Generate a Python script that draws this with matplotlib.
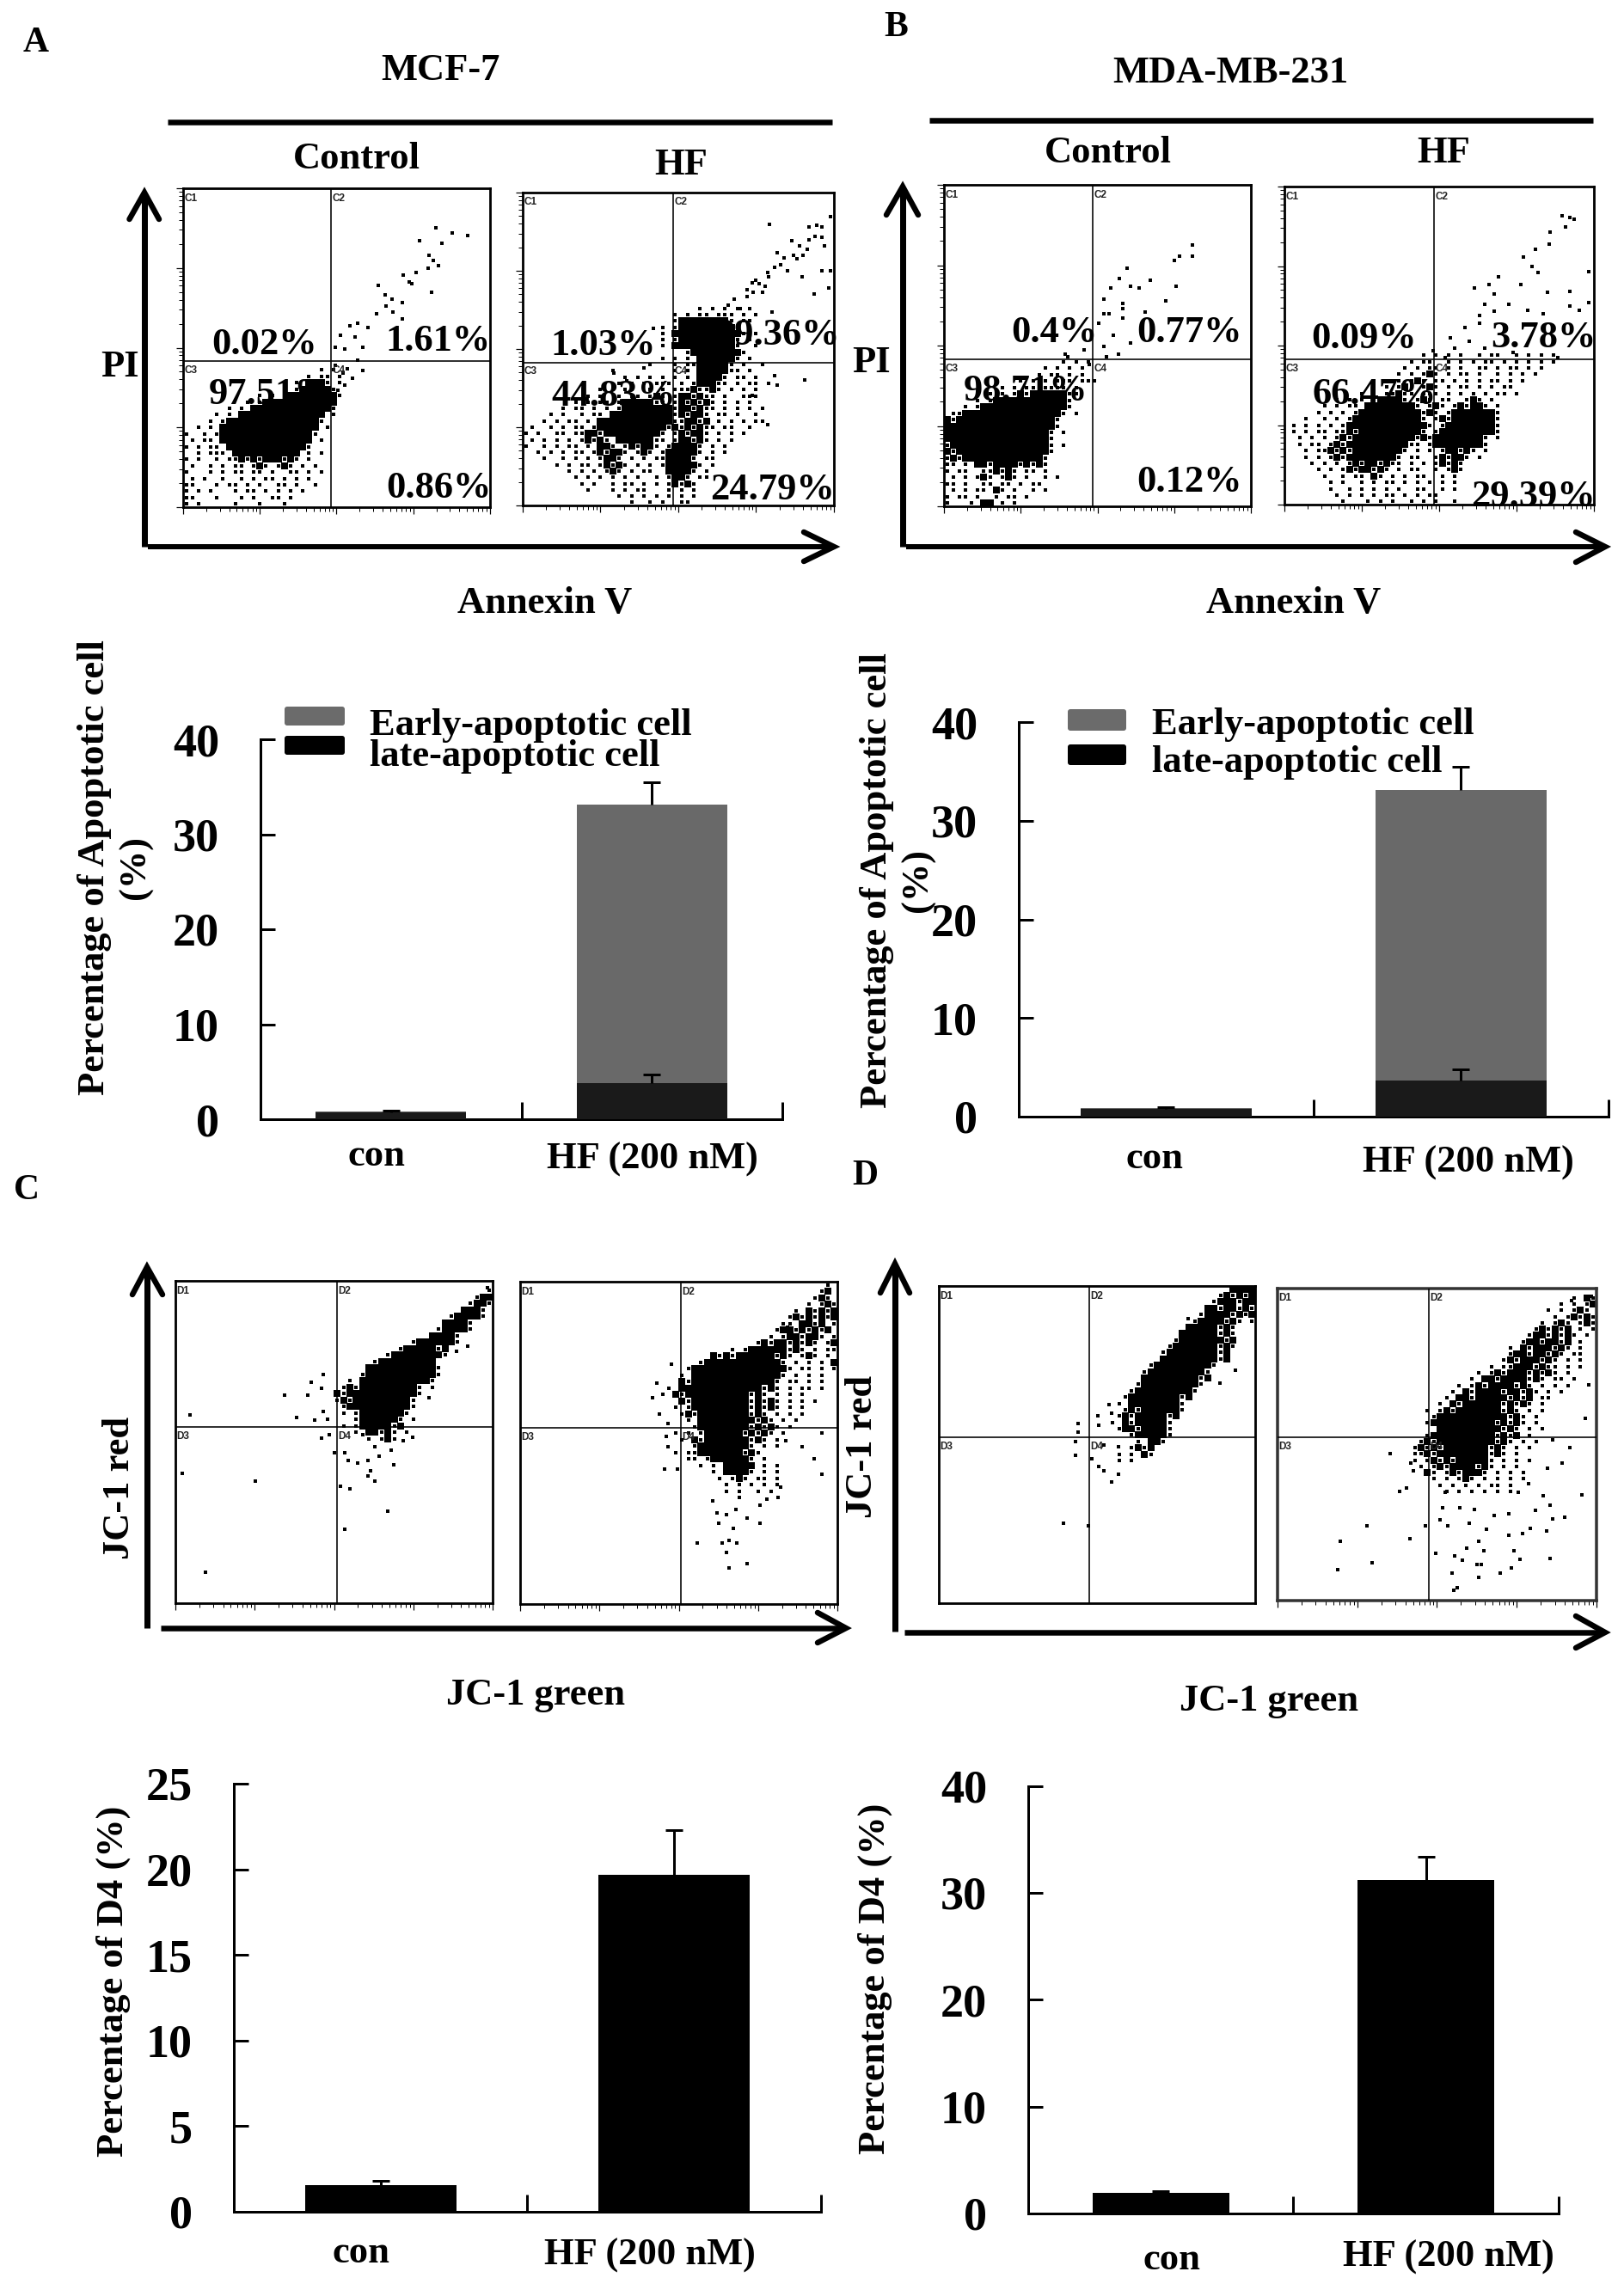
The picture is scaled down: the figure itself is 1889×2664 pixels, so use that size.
import matplotlib
matplotlib.use("Agg")
import matplotlib.pyplot as plt
import numpy as np
from matplotlib.patches import FancyBboxPatch

plt.rcParams['font.family'] = ['Liberation Serif', 'DejaVu Serif']
plt.rcParams['font.weight'] = 'bold'

W, H = 1890, 2664
DPI = 100
PX = 72 / DPI

# ---------- bar chart values ----------
categories = ["con", "HF (200 nM)"]
legend_labels = ["Early-apoptotic cell", "late-apoptotic cell"]

A_late = [0.7, 3.76]
A_total = [0.8, 33.1]
A_late_err = [0.25, 0.95]
A_total_err = [0.0, 2.35]
A_ticks = [0, 10, 20, 30, 40]

B_late = [0.75, 3.7]
B_total = [0.83, 33.1]
B_late_err = [0.2, 1.05]
B_total_err = [0.0, 2.35]
B_ticks = [0, 10, 20, 30, 40]

C_d4 = [1.57, 19.7]
C_err = [0.25, 2.6]
C_ticks = [0, 5, 10, 15, 20, 25]

D_d4 = [1.9, 31.2]
D_err = [0.2, 2.2]
D_ticks = [0, 10, 20, 30, 40]

# ---------- flow cytometry panels ----------
# Channel scale 0-100 on both axes. The *_top value is the lower edge (in channels) of the first
# row of the binned map; each row is 2 channels tall and each column 2 channels wide.
# '@' = saturated bin, '#' = a single event, '.' = empty.
A_ctrl_pcts = ["0.02%", "1.61%", "97.51%", "0.86%"]
A_hf_pcts = ["1.03%", "29.36%", "44.83%", "24.79%"]
B_ctrl_pcts = ["0.4%", "0.77%", "98.71%", "0.12%"]
B_hf_pcts = ["0.09%", "3.78%", "66.47%", "29.39%"]

A_ctrl_top = 42
A_ctrl_map = [
    "......................#.#.",
    "....................#.##.#",
    "..................#.@@@#.#",
    "................#.#@@@@@#.",
    "............#.#.#@@@@@@@@#",
    "..........#.#@@@@@@@@@@@@.",
    ".......#.#.@@@@@@@@@@@@@#.",
    ".....#.#.@@@@@@@@@@@@@@.#.",
    "....#.#@@@@@@@@@@@@@@@#...",
    "..#.#.@@@@@@@@@@@@@@@@.#..",
    "#..#.#@@@@@@@@@@@@@@@#....",
    ".#.##.@@@@@@@@@@@@@@@.#...",
    "#.#.##.@@@@@@@@@@@@@#.....",
    "..#.###.@@@@@@@@@@@.#.#...",
    "#.#..#.##@#@#@@@#@#.#.....",
    ".#..#.#.##.#@#.#@#.#.#....",
    "#...#.#.##.##.#..##.#.#...",
    ".#.#..#..#.#.##.#.#.#.....",
    "##...#.##.#.#..##.#..#....",
    "#.#.#...#.##.#.#.#.#......",
    "##...#...#.#..##.#........",
    "#.#.....#...#...#.........",
]
A_ctrl_events = [(82.3,87.6),(87.8,86.1),(92.8,85.3),(77,83.6),(84.2,82.8),(80.2,78.9),(81.5,77.4),(79.7,75),(83.1,75.8),(71.7,72.9),(75.8,73.7),(73.8,70.6),(74.6,70),(81,67.3),(63.6,69.6),(65.9,66.5),(68.1,65.1),(71.3,64.1),(63,60.7),(66.2,63.2),(71.3,58.9),(68.4,61.3),(56.8,57.6),(54.4,57),(60.1,56.4),(51.2,53.9),(56,53.3),(49.6,50.2),(52.8,49.6),(58.5,50.2),(56.8,46.2),(53.6,43.4),(58.5,42.8),(49.6,44.6),(52,42.1),(55.2,40.3),(52.8,38.4),(50.4,36.6),(49.6,34.7)]

A_hf_top = 62
A_hf_map = [
    "............................#.#.#.#.#",
    "........................#.#.##.###.#.#",
    "........................#@@@@@@@@#.##.",
    "......................#.#@@@@@@@@@#.#.",
    "......................#.@@@@@@@@@@@#.#",
    "......................#.#@@@@@@@@@#.#",
    "......................#.@@@@@@@@@@#..#",
    "..........................#@@@@@@@@#",
    "......................#.#.#.@@@@@@#.#",
    "....................#...#.##@@@@@#.#..#",
    "..............#.........#.#.@@@@@##.#",
    "................#.#.#.#.#.#.@@@@#.##.#",
    "...............#.#.#.###.#.#@@@##.#.##.#",
    "............#.#.##..#.#.###@##@#.#.#.#",
    "..........#.#..#.##.#@#.#@@#@##.#..###.",
    "........#.#.##.#@@@@@##.#@#@#@#.#.#.#",
    "......#.##.#.#.#@@@@@@@@#@@#@##.#.#.#.#",
    "....#.#..#.##.@@@@@@@@@@#@#@@#.##.#..#",
    "...#.#.##.#.@@@@@@@@@@@@##@@#@.#.#.#.##",
    ".#..#.#.##.#@@@@@@@@@@@#@#@#@##.##..#.",
    "#.#..##.##@@#@@@@@@@@@#.#@#@@#.#.#.#",
    ".#.#.#.#.#@#@#.@@@@@@##.#@@#@#.#.#.",
    "#..#.#.##.#.@@#.#@#@@#.#@@@@#.#.#",
    "..#.#.#.##.#@#@@#.#@#.#@@@@@#.#.#",
    "...#..#.#.#.#@@#.#.#.##@@@@#.##.",
    ".....#.#.##.#@#@#.#.#.#@@@@@#.#",
    ".......#.#.#.#@#.#.##..@@@@#.#",
    "........#.#.#.#.#.#..#.#@@#.##",
    ".........#.#..#.##.#.#.#@#@#.",
    "..........#...#.#.##...#.#.#.",
    "...............#.#.#.#.#.#.#",
    ".................#..#.#..##",
]
A_hf_events = [(79.4,89.8),(92,88.9),(94.4,89.5),(98.9,92.3),(96,85.7),(86.5,84.5),(91.3,82),(81.7,80.7),(88,78.8),(96,75),(99,75),(89.7,73),(78.6,74.4),(98.4,69.4),(93.7,67.5),(73.8,71.2),(72.2,66.8),(77,68),(80.2,61.8),(81,41.6),(90.5,40),(81.7,38.5),(73.8,35.3),(78.6,25.9),(42,56.7),(38.9,44),(29.4,42.2),(33.3,39.7),
    (66,64),(68,66),(70,63),(72,69),(74,68),(75,72),(76,71),(78,70),(79,73),(81,76),(83,77),(84,79),(85,75),(87,80),(89,83),(90,80),(92,85),(94,86),(96,89),(97,83)]

B_ctrl_top = 44
B_ctrl_map = [
    "...................#.#.#",
    "................#.#.#.#",
    "...............#.##.#.#",
    "............#.#.#.###.##",
    ".........#.#.##.####.#",
    ".......#.#.#@#@@@@@@##",
    ".....#.#@@@@@@@@@@@@#.",
    "...#.#@@@@@@@@@@@@@@#",
    ".##@@@@@@@@@@@@@@@@#.#",
    "@#@@@@@@@@@@@@@@@@#.",
    "@@@@@@@@@@@@@@@@@@#",
    "@@@@@@@@@@@@@@@@@#.#",
    "@@@@@@@@@@@@@@@@@#",
    "#@@@@@@@@@@@@@@@@#.#",
    "@#@@@@@@@@@@@@@@@#",
    "#@#@@@@@@@@@@@@@#.",
    "##.#.@@#@@@@#@#@#",
    "#.##..##@#@#.##.#",
    ".#.#.#@#.#@#.#..#.#",
    "##.#..##.##.#.##",
    ".#.#.##.@#.#..#.#.",
    "#.##.#..#.##.#.",
    "#...#.@@.#.#..",
]
B_ctrl_events = [(80.9,81.3),(80.9,77.9),(76.7,77.9),(75,76.4),(59.7,74),(57.1,70.9),(60.8,68.4),(67.1,70.3),(63.5,67.8),(54.4,67.8),(52,64.5),(58.4,63.1),(58.4,61.6),(72.4,63.8),(75.6,68.4),(65.6,60.5),(52,60),(53.7,60),(58.4,58.5),(50.5,57),(55.2,53.3),(52,49.6),(60.8,50.8),(56.8,47.2),(52.9,46.6),(39.4,47.2),(40.2,46.6),(45.7,48.7),(47.3,44),(48.9,39)]

B_hf_top = 46
B_hf_map = [
    "......................#.#.#.#..#.##..#.#.#.#.",
    "....................#.##..#.#.#.##.#.#.#.#.#",
    "...................#.#.##.#.#..##.#.##.#.#",
    "..................#.#.#@#.#.##.#..#.#.#.#",
    "..................#.#@#.##.#.#.#.##.#.#",
    "..............#.#.#@#.#@#.#.##.#.#.##",
    "............#.#.##@##.###.#.#.#.#.##.#",
    "........#.#.#.#@@@@#.#@#.##..#@#.#",
    "......#.#.##.@@@@@@@@#.#@#.#@#@@#.#",
    ".....#.#.#.#@@@@@@@@@@#@#.#@@@@@@@#",
    "...#..#.#.#@@@@@@@@@@@#.#@#@@@@@@@#",
    ".#.#.#.#.#@@@@@@@@@@@@@#.#@@@@@@@@#.",
    ".#.#.##.##@#@@@@@@@@@@#.#@@@@@@@@@#",
    "..#.#.#.#@#@@@@@@@@@@#@#@@@@@@@@#.#",
    "..#.##.#@#@@@@@@@@@@##.#@@@@@@@@#",
    "...#.##@#@#@@@@@@@@#.#.#.#@@#@#.#",
    "...#.#.#@#@@@@@@@@#.##..#@#@@#.#",
    "....#.#.#.#@#@@#@##.#.#.#@#@#.",
    ".....#.#.#@#@@#@#.#.##..#.#@#",
    "......#..#.##.@#.#.#.##..#.#",
    ".......#.#..#.#.##.#.#.#.#.#",
    ".......#..#.#.#.#.#..##..#.#",
    "........#.#.#.#.##.#.#.##..",
    ".........#...#.#.#..#.#.#..#",
]
B_hf_events = [(89.8,90.9),(92.1,90.3),(93.7,89.7),(90.9,87.2),(85.8,85.7),(85.5,81.9),(81.1,80.4),(77.2,77.9),(80,74.8),(81.9,73),(69.3,71.7),(76.4,69.2),(66.1,69.2),(61.4,68),(67.7,66.1),(85,66.7),(92.1,67),(98.4,73.2),(72.4,63),(64.6,63),(78.7,61.1),(98.4,63.6),(92.1,62.3),(95.3,61.1),(63,59.4),(67.7,60.7),(83.5,60),(58.3,55.6),(63,56.9),(53.5,52.5),(59.8,51.3),(55.1,49.1),(48,48.5),(52,46.3),(64.6,49.1),(74,47.9),(88.2,46.2)]

C_ctrl_top = 96
C_ctrl_map = [
    ".................................................#",
    "...............................................#@@",
    "..............................................#@@#",
    ".............................................@@@#",
    "...........................................#@@@@#",
    "..........................................@@@@#",
    ".........................................#@@@@#",
    "........................................@@@@#",
    ".....................................#@@@@@@#",
    "...................................#@@@@@#@",
    ".................................#@@@@@@@@#",
    "...............................#@@@@@@@@@",
    "..............................@@@@@@@@@@@#",
    ".............................#@@@@@@@@@@@#",
    "...........................#.@@@@@@@@@@@#",
    "..........................#@#@@@@@@@@@#.#",
    ".........................@#@@@@@@@@@@@#",
    ".........................#@#@@@@@@@@@#",
    "..........................#@@@@@@@@@@#",
    "..........................#.#@@@@@@@#",
    "............................#@@@@@@#.#",
    "..........................#.#@@@@@#@.",
    "............................#.@@#@#.#",
    "..............................#.#@#",
]
C_ctrl_events = [(4.6,58.3),(2.2,40.2),(25.1,37.8),(9.4,9.5),(34.3,64.6),(41.6,64.6),(42.8,68.6),(46.5,71),(46.2,66.7),(38.3,57.6),(43.8,56.7),(46.5,59.5),(48,57),(46.2,51.1),(48.4,52.4),(50.2,46.7),(53.5,46.7),(54.4,44.3),(57.4,43.5),(60.6,44.3),(64.3,45.7),(68.8,42.9),(61.4,41),(60.6,39.5),(62.9,37.8),(51.9,36.2),(55,35.5),(66.9,28.6),(53.5,23),(59.1,52.4),(62.9,48.6),(68,47.6),(71.8,50.5),(74.7,51.4),(92.1,79.8),(88.7,78.1),(98.5,98),(79.9,63.8)]

C_hf_top = 98
C_hf_map = [
    "................................................#",
    "...............................................#@",
    "..............................................#@#",
    ".............................................#.#@#",
    "...........................................#.@#@#@",
    "..........................................#@#@#@#@",
    ".........................................##.@@#@.#",
    "........................................#@@#@#@#@",
    ".......................................#.#@@#@@#.#",
    ".....................................#@#@@#@#@#.#@",
    ".................................#.#@@@@@@#@#.#.##",
    "..............................@#@#@@@@@@#@#.#@#.#",
    "............................#@@@@@@@@@@@@#.#.#.#.@",
    "..........................#@@@@@@@@@@@@@@@#.##.#.#",
    ".........................#.@@@@@@@@@@@@@@#.#.#.#",
    ".........................@#@@@@@@@@@@@@@#.##.#.#",
    ".......................#.@@@@@@@@@@@@@#@#.#.##.#",
    "......................#.@#@@@@@@@@@@#@#.#.#.#",
    ".........................@#@@@@@@@@@#@#@#.#.#.#",
    "........................#.#@@@@@@@@@#@#@#.#.#",
    ".........................#@#@@@@@@@@#@#.#.#.#",
    "..........................#.@@@@@@@@@#@#.#.#",
    "...........................#@@@@@@@@#@#@#.#",
    "........................#.#.#@@@@@@#@#@#.#",
    ".........................#.@#@@@@@@@#@#.#",
    "...........................#@@@@@@@@#.#.#",
    "........................#.##@@@@@@@#@#",
    "..........................##.#@@@@@@#.#",
    "............................#.#.@@@@@.#.#",
    "..............................#.@@@@#.#.#",
    "...............................#.#@#.##.#",
    "................................#.#.#.#.#",
    "................................#.#..#.#",
    "..................................#",
]
C_hf_events = [(47.7,74.3),(43.2,68.6),(41.6,63.9),(43.9,59),(46.5,56),(46.2,51.9),(46.5,48.8),(45.5,41.9),(49.5,41.9),(82.2,36.4),(81.4,33),(77.7,32.6),(75.5,30.7),(60.6,32),(62.1,28.3),(65.1,27.8),(68,29.3),(71.5,26.7),(75.5,25.2),(62.6,25),(67.3,23.5),(55.7,19),(63.6,19),(65.8,19.7),(68.4,19),(65.1,15.9),(65.8,11.2),(71.5,12.6),(95.2,53),(88.9,48.8),(92.6,45),(95.1,40.2),(83.7,50.7),(84.4,86)]

D_ctrl_top = 98
D_ctrl_map = [
    "..............................................@@@@",
    "............................................#@#@#@",
    "...........................................#@@@#@@",
    "..........................................@@#@@#@#",
    ".........................................#@@@@#@#@",
    "........................................#@@@@#@#.#",
    ".......................................@@@@@#@#",
    "......................................@@@@@@#@#",
    ".....................................#@@@@@@@#@",
    "....................................#@@@@@@@#@#",
    "...................................#@@@@@@@@#@",
    "...................................@@@@@@@@@#@",
    ".................................#@@@@@@@@@#.",
    "................................#@@@@@@@@@#",
    "................................@@@@@@@@@#@",
    "...............................#@@@@@@@@@#",
    "..............................#@@@@@@@@@#",
    ".............................#@@@@@@@@#@",
    "............................#.@@@@@@@@#",
    ".............................#@#@@@@@@#",
    "............................#@#@@@@@#@",
    "...........................#.@#@@@@@#",
    "............................#@@#@@@@#",
    "..............................#@@@@@#",
    "...............................#.@@#",
    "..............................#@#@",
    "............................#.#.@#",
    "............................#.#",
]
D_ctrl_events = [(78.7,89.6),(93.8,73.4),(88.9,69.3),(53.7,62.5),(54.5,60),(50.2,59.1),(50.6,56.2),(44.1,56.7),(44.1,53.8),(43.2,50.9),(43.2,46.5),(48.3,45.5),(50.6,43.1),(52.2,41.7),(54.5,38.3),(56.8,40.7),(39.4,25.2),(47.2,24.4),(52.2,49.9),(56.8,49.4)]

D_hf_top = 96
D_hf_map = [
    "..............................................#.@#",
    "............................................#.#.#@",
    "..........................................#.#.#@#.",
    "...........................................#.#@#@#",
    ".........................................#.#@#.#@#",
    "........................................#@#@#@.#.#",
    ".......................................#@@#@#@#.#",
    "......................................#@@#@@#@.#.",
    "....................................#.@#@@@#@#.#",
    "....................................#@@#@@#@#.##",
    "...................................#@#@@@#@#.#.#",
    ".................................#.##@@@#@##.#.#",
    "...............................#.#@#@@@#@#@#.#",
    "..............................#.@@#@@@@#@#.##.#",
    "............................#.#@#@@@@#@#.#.#.#",
    "...........................#.@#@@@@#@@#@#.#.#",
    "..........................#.@@#@@@@@#@#@.##",
    ".........................#.@#@@@@@@#@#@#.#",
    ".......................#.#@#@@@@@@@#@#.#.#",
    "........................#@@@@@@@@@@@#@#.#",
    ".......................#@@@@@@@@@@#@#@#.#",
    ".........................@@@@@@@@@@#@#.#.#",
    ".......................#@@@@@@@@@@#@#@.#",
    "......................#@#@@@@@@@@@#@#.#.#",
    ".....................#@#@#@@@@@@@#@#.#.#",
    ".....................##@#@@@@@@@@#@#.#",
    ".....................#.#@#@#@@@@@#.#.#.#",
    "......................#.#@#@@@@#@#.#.#",
    ".......................@#.#@#@@@#.#.#.#",
    "........................#.#.#@#.#.#.#.#",
    ".........................#.#.#.#.##.#",
    "..........................#.#.#.#.#.#",
]
D_hf_events = [(35.4,47.2),(41.8,44),(42.6,41.6),(40.3,36.1),(38.4,34.9),(28,23.9),(19.6,19),(29.6,12.1),(18.8,9.8),(41.5,19.7),(46.4,23.9),(49.5,15.2),(55.6,14.2),(57.9,12.9),(59.4,16.8),(63.2,19),(64.8,16),(62.5,11.6),(64,11.6),(54.8,8.9),(63.2,7.4),(69.7,8.9),(73.2,10.6),(74,16),(76,13.3),(85.5,13.4),(56.4,4.2),(55.3,3.4),(51,25.8),(53.3,23.9),(60.2,24.9),(65.5,22.9),(72.4,20.9),(76.7,21.4),(79.3,23.1),(84.4,22.4),(86.2,26.3),(90,26.8),(95.4,33.9),(83.2,33.7),(85.5,30.7),(80.9,28.8),(72.4,27.8),(67.8,27.3),(61.7,29.3),(57.1,29.8),(51.8,29.8),(52.5,34.7),(75.5,34.7),(78.6,37.6),(84.7,42.5),(89.3,44),(91.6,48.9),(86.2,51.4),(96.5,58.3),(97.7,69.1),(92.3,96.1),(98.5,97.5)]

# ---------- figure and helpers ----------
fig = plt.figure(figsize=(W / DPI, H / DPI), dpi=DPI, facecolor='white')


def axes_px(x0, y0, x1, y1, **kw):
    """Axes from a pixel box (y counted from the top of the image)."""
    return fig.add_axes([x0 / W, 1 - y1 / H, (x1 - x0) / W, (y1 - y0) / H], **kw)


ov = fig.add_axes([0, 0, 1, 1], zorder=50)
ov.set_xlim(0, W)
ov.set_ylim(H, 0)
ov.axis('off')
ov.patch.set_alpha(0)


def label(x, y, s, size=32, **kw):
    kw.setdefault('ha', 'center')
    kw.setdefault('va', 'center')
    ov.text(x, y, s, fontsize=size, fontweight='bold', color='black', **kw)


def line(xs, ys, wpx):
    ov.plot(xs, ys, color='black', lw=wpx * PX, solid_capstyle='butt', solid_joinstyle='miter')


def chevron(xs, ys):
    ov.plot(xs, ys, color='black', lw=6.5 * PX, solid_capstyle='round', solid_joinstyle='miter')


def flow(box, qx, qy, tag, top, rows, events, yticks=True, xticks=True, edge='black', lw_px=2.8):
    ax = axes_px(*box, zorder=5)
    ax.set_xlim(0, 100)
    ax.set_ylim(0, 100)
    single_x, single_y, sat_x, sat_y = [], [], [], []
    for i, row in enumerate(rows):
        for c, ch in enumerate(row):
            if ch == '#':
                single_x.append(2 * c + 1)
                single_y.append(top - 2 * i + 1)
            elif ch == '@':
                sat_x.append(2 * c + 1)
                sat_y.append(top - 2 * i + 1)
    ax.scatter(sat_x, sat_y, marker='s', s=(8.6 * PX) ** 2, color='black', linewidths=0, zorder=2)
    ax.scatter(single_x, single_y, marker='s', s=(4.4 * PX) ** 2, color='black', linewidths=0, zorder=2)
    e = np.array(events)
    ax.scatter(e[:, 0], e[:, 1], marker='s', s=(3.6 * PX) ** 2, color='black', linewidths=0, zorder=3)
    ax.axvline(qx, color='black', lw=1.6 * PX, zorder=4)
    ax.axhline(qy, color='black', lw=1.6 * PX, zorder=4)
    for s in ax.spines.values():
        s.set_linewidth(lw_px * PX)
        s.set_color(edge)
    maj = [0, 25, 50, 75, 100]
    mnr = [d * 25 + np.log10(k) * 25 for d in range(4) for k in range(2, 10)]
    if xticks:
        ax.set_xticks(maj)
        ax.set_xticks(mnr, minor=True)
        ax.tick_params(axis='x', which='major', length=8 * PX, width=1.2 * PX, labelbottom=False)
        ax.tick_params(axis='x', which='minor', length=5 * PX, width=1.0 * PX)
    else:
        ax.set_xticks([])
    if yticks:
        ax.set_yticks(maj)
        ax.set_yticks(mnr, minor=True)
        ax.tick_params(axis='y', which='major', length=8 * PX, width=1.2 * PX, labelleft=False)
        ax.tick_params(axis='y', which='minor', length=5 * PX, width=1.0 * PX)
    else:
        ax.set_yticks([])
    kw = dict(fontsize=8.5, fontweight='bold', family='Liberation Sans', color='#222222', va='top', ha='left', zorder=6)
    ax.text(0.4, 98.5, tag + '1', **kw)
    ax.text(qx + 0.4, 98.5, tag + '2', **kw)
    ax.text(0.4, qy - 1.3, tag + '3', **kw)
    ax.text(qx + 0.4, qy - 1.3, tag + '4', **kw)
    return ax


def style_bar(ax, yt, ymax, pad_px=48):
    ax.set_xlim(0, 2)
    ax.set_ylim(0, ymax)
    for side in ('top', 'right'):
        ax.spines[side].set_visible(False)
    for side in ('left', 'bottom'):
        ax.spines[side].set_linewidth(3 * PX)
    ax.set_xticks([0, 1, 2])
    ax.set_xticklabels([])
    ax.set_yticks(yt)
    ax.tick_params(axis='y', direction='in', length=17 * PX, width=3 * PX, pad=pad_px * PX, labelsize=39)
    ax.tick_params(axis='x', direction='in', length=20 * PX, width=3 * PX)
    ax.patch.set_alpha(0)


def err(ax, x, y, e):
    if e > 0:
        _, caps, _ = ax.errorbar([x], [y], yerr=[[0], [e]], fmt='none', ecolor='black',
                                 elinewidth=3 * PX, capsize=10 * PX, capthick=3 * PX, zorder=5)
        caps[0].set_visible(False)


def stacked(box, late, total, late_err, total_err, ticks, width, swatch, textx, ys_swatch, ys_text):
    ax = axes_px(*box, zorder=6)
    style_bar(ax, ticks, ticks[-1])
    xs = [0.5, 1.5]
    early = [t - l for t, l in zip(total, late)]
    ax.bar(xs, late, width=width, color='#1a1a1a', lw=0, zorder=3)
    ax.bar(xs, early, width=width, bottom=late, color='#696969', lw=0, zorder=3)
    for x, l, t, le, te in zip(xs, late, total, late_err, total_err):
        err(ax, x, l, le)
        err(ax, x, t, te)
    for (y0, y1), col, s, ty in zip(ys_swatch, ['#6b6b6b', 'black'], legend_labels, ys_text):
        ov.add_patch(FancyBboxPatch((swatch[0] + 3, y0 + 3), swatch[1] - swatch[0] - 6, y1 - y0 - 6,
                                    boxstyle='round,pad=3', fc=col, ec='none'))
        label(textx, ty, s, size=32, ha='left')
    return ax


def single(box, vals, errs, ticks, width):
    ax = axes_px(*box, zorder=6)
    style_bar(ax, ticks, ticks[-1])
    xs = [0.5, 1.5]
    ax.bar(xs, vals, width=width, color='black', lw=0, zorder=3)
    for x, v, e in zip(xs, vals, errs):
        err(ax, x, v, e)
    return ax


def ylabel(ax, s, x, y, size=32, linespacing=1.25):
    ax.set_ylabel(s, fontsize=size, fontweight='bold', va='center', ha='center',
                  multialignment='center', linespacing=linespacing)
    ax.yaxis.set_label_coords(x, y, transform=ov.transData)


# ---------- panel letters ----------
label(42, 50, 'A', 30)
label(1042, 32, 'B', 30)
label(31, 1385, 'C', 30)
label(1006, 1368, 'D', 30)

# ---------- A: annexin V dot plots ----------
label(512, 82, 'MCF-7')
line([195, 968], [142, 142], 6.5)
label(415, 185, 'Control')
label(792, 192, 'HF')
label(139, 427, 'PI')
label(634, 702, 'Annexin V')
flow((213, 219, 570, 590), 48.2, 45.7, 'C', A_ctrl_top, A_ctrl_map, A_ctrl_events)
flow((608, 224, 970, 588), 48.3, 45.7, 'C', A_hf_top, A_hf_map, A_hf_events)
for (x, y), s in zip([(308, 401), (510, 397), (315, 459), (510, 568)], A_ctrl_pcts):
    label(x, y, s)
for (x, y), s in zip([(702, 402), (904, 390), (714, 461), (898, 570)], A_hf_pcts):
    label(x, y, s)
line([168, 168], [636, 228], 7)
line([172, 965], [636, 636], 6)
chevron([150.5, 168, 185], [255, 224, 255])
chevron([935, 970, 935], [619, 636, 653])

# ---------- B: annexin V dot plots ----------
label(1431, 85, 'MDA-MB-231')
line([1081, 1853], [140, 140], 6.5)
label(1289, 178, 'Control')
label(1679, 178, 'HF')
label(1014, 422, 'PI')
label(1505, 702, 'Annexin V')
flow((1098, 215, 1455, 589), 48.5, 45.7, 'C', B_ctrl_top, B_ctrl_map, B_ctrl_events)
flow((1494, 217, 1854, 587), 48.3, 45.7, 'C', B_hf_top, B_hf_map, B_hf_events)
for (x, y), s in zip([(1226, 387), (1383, 387), (1193, 455), (1383, 561)], B_ctrl_pcts):
    label(x, y, s)
for (x, y), s in zip([(1587, 394), (1795, 393), (1599, 459), (1783, 578)], B_hf_pcts):
    label(x, y, s)
line([1050, 1050], [636, 220], 7)
line([1054, 1862], [636, 636], 6)
chevron([1031, 1050, 1068], [250, 217, 250])
chevron([1833, 1867, 1833], [619, 636, 654])

# ---------- stacked bars ----------
axA = stacked((303, 860, 910, 1302), A_late, A_total, A_late_err, A_total_err, A_ticks, 0.577,
              (331, 401), 430, [(822, 844), (856, 878)], [844, 880])
ylabel(axA, 'Percentage of Apoptotic cell\n(%)', 134, 1009)
label(438, 1345, categories[0], 32)
label(759, 1349, categories[1], 32)

axB = stacked((1185, 840, 1871, 1299), B_late, B_total, B_late_err, B_total_err, B_ticks, 0.58,
              (1242, 1310), 1340, [(825, 850), (866, 890)], [843, 887])
ylabel(axB, 'Percentage of Apoptotic cell\n(%)', 1044, 1024)
label(1343, 1348, categories[0], 32)
label(1708, 1353, categories[1], 32)

# ---------- C: JC-1 dot plots ----------
flow((204, 1490, 573, 1865), 51, 54.7, 'D', C_ctrl_top, C_ctrl_map, C_ctrl_events, yticks=False)
flow((605, 1491, 974, 1866), 50.7, 54.7, 'D', C_hf_top, C_hf_map, C_hf_events, yticks=False)
line([171, 171], [1894, 1478], 7)
line([187, 978], [1894, 1894], 6.5)
chevron([154, 171, 189], [1506, 1474, 1506])
chevron([951, 984, 951], [1876, 1894, 1911])
label(623, 1972, 'JC-1 green', 32)
label(139, 1731, 'JC-1 red', 32, rotation=90)

# ---------- D: JC-1 dot plots ----------
flow((1092, 1496, 1460, 1865), 47.6, 52.3, 'D', D_ctrl_top, D_ctrl_map, D_ctrl_events, yticks=False, xticks=False)
flow((1486, 1499, 1857, 1862), 47.4, 52.3, 'D', D_hf_top, D_hf_map, D_hf_events, yticks=False, edge='#333333', lw_px=3.5)
line([1041, 1041], [1898, 1474], 7)
line([1052, 1862], [1899, 1899], 6.5)
chevron([1024, 1041, 1058], [1504, 1470, 1504])
chevron([1833, 1867, 1833], [1880, 1899, 1917])
label(1476, 1979, 'JC-1 green', 32)
label(1003, 1683, 'JC-1 red', 32, rotation=90)

# ---------- D4 bars ----------
axC = single((272, 2075, 955, 2573), C_d4, C_err, C_ticks, 0.515)
ylabel(axC, 'Percentage of D4 (%)', 132, 2305)
label(420, 2621, categories[0], 32)
label(756, 2624, categories[1], 32)

axD = single((1196, 2077.5, 1813, 2575), D_d4, D_err, D_ticks, 0.515)
ylabel(axD, 'Percentage of D4 (%)', 1018, 2302)
label(1363, 2629, categories[0], 32)
label(1685, 2626, categories[1], 32)

fig.savefig('out.png', dpi=DPI, facecolor='white')
